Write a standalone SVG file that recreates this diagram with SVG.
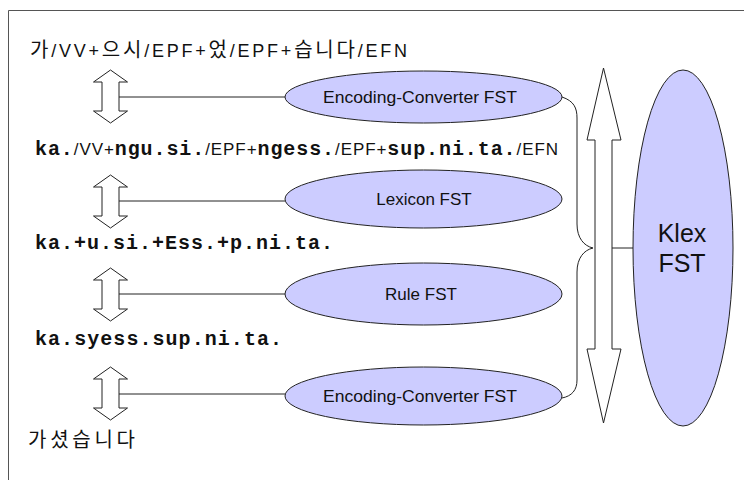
<svg xmlns="http://www.w3.org/2000/svg" width="744" height="480" viewBox="0 0 744 480">
<style>
.frame{fill:none;stroke:#555;stroke-width:1}
.fst{fill:#CCCCFF;stroke:#222;stroke-width:1}
.arr{fill:#fff;stroke:#222;stroke-width:1}
.con{fill:none;stroke:#222;stroke-width:1}
.lbl{font-family:"Liberation Sans",Arial,sans-serif;font-size:17px;fill:#111;text-anchor:middle}
.big{font-family:"Liberation Sans",Arial,sans-serif;font-size:25px;fill:#111;text-anchor:middle}
.ko{font-family:"Liberation Sans","Noto Sans CJK KR",sans-serif;font-size:18px;fill:#111}
.kk{font-family:"Noto Sans CJK KR",sans-serif;font-size:20px}
.mono{font-family:"Liberation Mono","Courier New",monospace;font-size:20px;font-weight:bold;fill:#111}
.sans{font-family:"Liberation Sans",Arial,sans-serif;font-size:17px;font-weight:normal}
</style>
<defs>
<polygon id="dbl" points="0,0 17,12 8.5,12 8.5,41 17,41 0,53 -17,41 -8.5,41 -8.5,12 -17,12"/>
</defs>
<path class="frame" d="M8.5,480 V10.5 H744"/>

<g id="connectors">
<line class="con" x1="119" y1="97" x2="285" y2="97"/>
<line class="con" x1="119" y1="201" x2="285" y2="201"/>
<line class="con" x1="119" y1="294" x2="285" y2="294"/>
<line class="con" x1="119" y1="394" x2="285" y2="394"/>
<path class="con" d="M562,97 C574,101 577,108 577,118 V224 C577,238 584,246 593,248 C584,250 577,258 577,272 V380 C577,390 572,396 562,398"/>
<line class="con" x1="612" y1="248" x2="633" y2="248"/>
</g>

<g id="texts">
<text class="ko" x="30" y="57" textLength="377" lengthAdjust="spacing"><tspan class="kk">가</tspan>/VV+<tspan class="kk">으시</tspan>/EPF+<tspan class="kk">었</tspan>/EPF+<tspan class="kk">습니다</tspan>/EFN</text>
<text class="mono" x="35" y="155" textLength="523" lengthAdjust="spacing">ka.<tspan class="sans">/VV+</tspan>ngu.si.<tspan class="sans">/EPF+</tspan>ngess.<tspan class="sans">/EPF+</tspan>sup.ni.ta.<tspan class="sans">/EFN</tspan></text>
<text class="mono" x="35" y="249" textLength="298" lengthAdjust="spacing">ka.+u.si.+Ess.+p.ni.ta.</text>
<text class="mono" x="35" y="345" textLength="247" lengthAdjust="spacing">ka.syess.sup.ni.ta.</text>
<text class="ko" x="28" y="447" textLength="107" lengthAdjust="spacing"><tspan class="kk">가셨습니다</tspan></text>
</g>

<g id="arrow1"><use href="#dbl" class="arr" x="110.5" y="70"/></g>
<g id="arrow2"><use href="#dbl" class="arr" x="110.5" y="175"/></g>
<g id="arrow3"><use href="#dbl" class="arr" x="110.5" y="268"/></g>
<g id="arrow4"><use href="#dbl" class="arr" x="110.5" y="367"/></g>

<g id="enc1">
<ellipse class="fst" cx="423.5" cy="97" rx="138.5" ry="26"/>
<text class="lbl" x="420" y="103" textLength="194" lengthAdjust="spacingAndGlyphs">Encoding-Converter FST</text>
</g>
<g id="lexicon">
<ellipse class="fst" cx="423.5" cy="199" rx="138.5" ry="29"/>
<text class="lbl" x="424" y="205">Lexicon FST</text>
</g>
<g id="rule">
<ellipse class="fst" cx="423.5" cy="294" rx="138.5" ry="31"/>
<text class="lbl" x="421" y="300">Rule FST</text>
</g>
<g id="enc2">
<ellipse class="fst" cx="423.5" cy="396" rx="138.5" ry="29"/>
<text class="lbl" x="420" y="402" textLength="194" lengthAdjust="spacingAndGlyphs">Encoding-Converter FST</text>
</g>

<g id="bigarrow">
<polygon class="arr" points="603.5,68 621,140 612,140 612,349 621,349 603.5,423 587,349 595,349 595,140 587,140"/>
</g>

<g id="klex">
<ellipse class="fst" cx="683" cy="248" rx="50" ry="178"/>
<text class="big" x="682" y="242">Klex</text>
<text class="big" x="682" y="272">FST</text>
</g>
</svg>
